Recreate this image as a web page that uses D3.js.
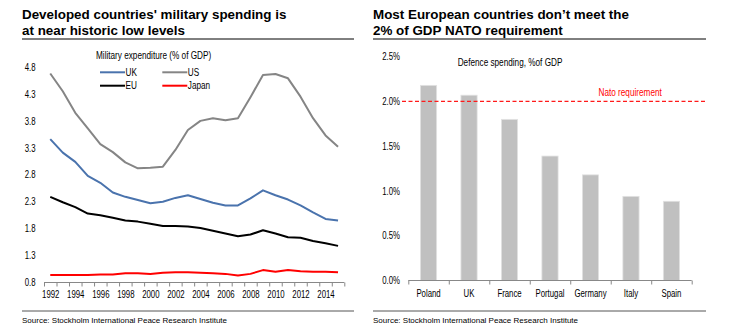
<!DOCTYPE html>
<html>
<head>
<meta charset="utf-8">
<script src="https://cdn.jsdelivr.net/npm/d3@7"></script>
<style>
  body { margin: 0; background: #fff; }
  svg { display: block; }
  .title { font-family: "Liberation Sans", Arial, sans-serif; font-weight: bold; font-size: 13.4px; fill: #000; }
  .narrow { font-family: "Liberation Sans", Arial, sans-serif; fill: #000; }
  .source { font-family: "Liberation Sans", Arial, sans-serif; font-size: 8px; fill: #000; }
</style>
</head>
<body>
<svg id="chart" width="737" height="332"></svg>
<script>
// military expenditure, % of GDP
var years = d3.range(1992, 2016);
var ukValues = [3.46, 3.21, 3.04, 2.78, 2.65, 2.47, 2.39, 2.33, 2.27, 2.30, 2.37, 2.42,
                2.35, 2.28, 2.23, 2.23, 2.36, 2.51, 2.42, 2.34, 2.23, 2.10, 1.98, 1.95];
var usValues = [4.68, 4.35, 3.95, 3.66, 3.37, 3.22, 3.03, 2.92, 2.93, 2.95, 3.26, 3.63,
                3.80, 3.85, 3.81, 3.85, 4.24, 4.65, 4.67, 4.59, 4.25, 3.85, 3.53, 3.32];
var euValues = [2.39, 2.29, 2.20, 2.08, 2.05, 2.00, 1.95, 1.93, 1.89, 1.85, 1.85, 1.84,
                1.81, 1.76, 1.71, 1.66, 1.69, 1.77, 1.71, 1.64, 1.63, 1.57, 1.53, 1.48];
var japanValues = [0.94, 0.94, 0.94, 0.94, 0.95, 0.95, 0.97, 0.97, 0.96, 0.98, 0.99, 0.99,
                   0.98, 0.97, 0.96, 0.93, 0.96, 1.03, 1.00, 1.03, 1.01, 1.00, 1.00, 0.99];
var leftTicks = [0.8, 1.3, 1.8, 2.3, 2.8, 3.3, 3.8, 4.3, 4.8];
var yearLabels = d3.range(1992, 2015, 2);

// defence spending by country
var countries = ["Poland", "UK", "France", "Portugal", "Germany", "Italy", "Spain"];
var defenceValues = [2.18, 2.07, 1.80, 1.39, 1.18, 0.94, 0.885];
var natoTarget = 2.0;
var rightTicks = [0, 0.5, 1.0, 1.5, 2.0, 2.5];

var svg = d3.select("#chart");

// squeeze text horizontally so it reads like a narrow face
function condense(sel, size) {
    sel.attr("class", "narrow").attr("font-family", null).style("font-size", size + "px");
    sel.each(function () {
        var w = this.getComputedTextLength();
        d3.select(this).attr("textLength", w * 0.78).attr("lengthAdjust", "spacingAndGlyphs");
    });
    return sel;
}

function header(x0, x1, lines) {
    lines.forEach(function (t, i) {
        svg.append("text").attr("class", "title")
            .attr("x", x0).attr("y", 19 + i * 16).text(t);
    });
    svg.append("line").attr("x1", x0).attr("x2", x1).attr("y1", 39).attr("y2", 39)
        .attr("stroke", "#000").attr("stroke-width", 1);
    svg.append("line").attr("x1", x0).attr("x2", x1).attr("y1", 311).attr("y2", 311)
        .attr("stroke", "#555").attr("stroke-width", 1);
    svg.append("text").attr("class", "source").attr("x", x0).attr("y", 323)
        .text("Source: Stockholm International Peace Research Institute");
}

// ---- left panel: line chart ----
header(22, 354, ["Developed countries' military spending is", "at near historic low levels"]);

var x = d3.scaleLinear().domain([1991.5, 2015.5]).range([44, 344.3]);
var y = d3.scaleLinear().domain([0.8, 4.8]).range([282.5, 67]);

var xAxis = svg.append("g").attr("transform", "translate(0,282.5)")
    .call(d3.axisBottom(x).tickValues(d3.range(1991.5, 2016, 1)).tickSize(4).tickFormat(""));
xAxis.selectAll("line, path").attr("stroke", "#888");
xAxis.select(".domain").attr("d", "M44,0H344.3");

var yearAxis = svg.append("g").attr("transform", "translate(0,282.5)")
    .call(d3.axisBottom(x).tickValues(yearLabels).tickSize(0).tickPadding(8.5).tickFormat(d3.format("d")));
yearAxis.select(".domain").remove();
condense(yearAxis.selectAll("text"), 10);

var yAxis = svg.append("g").attr("transform", "translate(35.5,0)")
    .call(d3.axisLeft(y).tickValues(leftTicks).tickSize(0).tickPadding(0).tickFormat(d3.format(".1f")));
yAxis.select(".domain").remove();
condense(yAxis.selectAll("text"), 10);

var series = [
    { name: "UK", values: ukValues, color: "#4a73ad" },
    { name: "US", values: usValues, color: "#858585" },
    { name: "EU", values: euValues, color: "#000000" },
    { name: "Japan", values: japanValues, color: "#ff0000" }
];

var line = d3.line()
    .x(function (d, i) { return x(years[i]); })
    .y(function (d) { return y(d); });

series.forEach(function (s) {
    svg.append("path").datum(s.values)
        .attr("d", line)
        .attr("fill", "none")
        .attr("stroke", s.color)
        .attr("stroke-width", 2)
        .attr("stroke-linejoin", "round");
});

// legend
condense(svg.append("text").attr("x", 96).attr("y", 59).text("Military expenditure (% of GDP)"), 10.5);
series.forEach(function (s, i) {
    var lx = i % 2 === 0 ? 100 : 162.3;
    var ly = i < 2 ? 72.3 : 85.7;
    svg.append("line").attr("x1", lx).attr("x2", lx + 25).attr("y1", ly).attr("y2", ly)
        .attr("stroke", s.color).attr("stroke-width", 2);
    condense(svg.append("text").attr("x", lx + 25.5).attr("y", ly + 3.6).text(s.name), 10.5);
});

// ---- right panel: bar chart ----
header(373, 706, ["Most European countries don\u2019t meet the", "2% of GDP NATO requirement"]);

var xb = d3.scaleBand().domain(countries).range([408.3, 691.7])
    .paddingInner(0.6).paddingOuter(0.3);
var xbEdges = d3.scaleLinear().domain([0, countries.length]).range([408.3, 691.7]);
var yb = d3.scaleLinear().domain([0, 2.5]).range([280.5, 56.7]);

var ybAxis = svg.append("g").attr("transform", "translate(400,0)")
    .call(d3.axisLeft(yb).tickValues(rightTicks).tickSize(0).tickPadding(0)
        .tickFormat(function (d) { return d.toFixed(1) + "%"; }));
ybAxis.select(".domain").remove();
condense(ybAxis.selectAll("text"), 10);

svg.selectAll("rect.bar").data(defenceValues).enter().append("rect")
    .attr("class", "bar")
    .attr("x", function (d, i) { return xb(countries[i]); })
    .attr("width", xb.bandwidth())
    .attr("y", function (d) { return yb(d); })
    .attr("height", function (d) { return yb(0) - yb(d); })
    .attr("fill", "#c0c0c0")
    .attr("stroke", "#e2e2e2")
    .attr("stroke-width", 0.8);

var xbAxis = svg.append("g").attr("transform", "translate(0,280.5)")
    .call(d3.axisBottom(xbEdges).tickValues(d3.range(0, countries.length + 1)).tickSize(4).tickFormat(""));
xbAxis.selectAll("line, path").attr("stroke", "#888");
xbAxis.select(".domain").attr("d", "M408.3,0H691.7");

var countryAxis = svg.append("g").attr("transform", "translate(0,280.5)")
    .call(d3.axisBottom(xb).tickSize(0).tickPadding(9.5));
countryAxis.select(".domain").remove();
condense(countryAxis.selectAll("text"), 10);

// NATO 2% line
svg.append("line")
    .attr("x1", 402).attr("x2", 705)
    .attr("y1", yb(natoTarget)).attr("y2", yb(natoTarget))
    .attr("stroke", "#ff1a1a").attr("stroke-width", 1.3)
    .attr("stroke-dasharray", "4,2.5");

condense(svg.append("text").attr("x", 598.5).attr("y", 96).text("Nato requirement"), 10.5)
    .style("fill", "#ff0000");

condense(svg.append("text").attr("x", 457.7).attr("y", 66).text("Defence spending, %of GDP"), 10.5);
</script>
</body>
</html>
